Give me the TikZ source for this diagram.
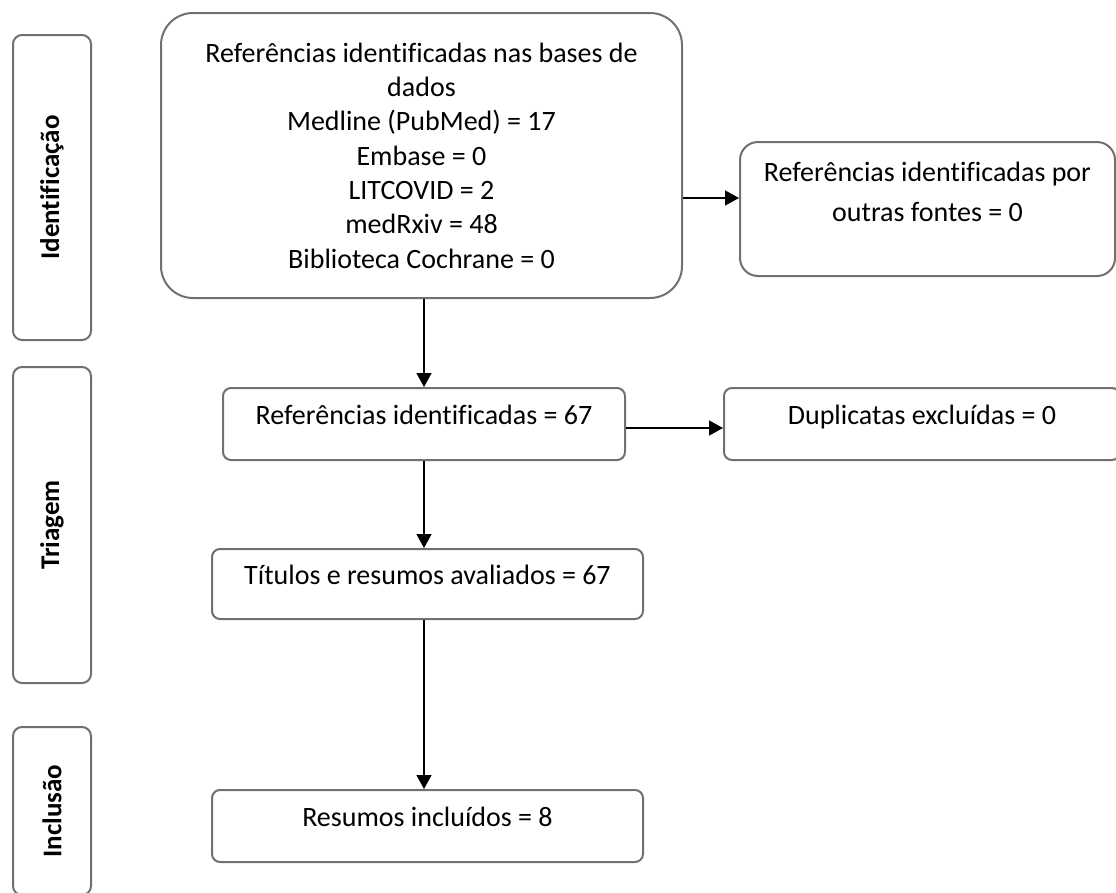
\documentclass[tikz,border=0pt]{standalone}
\usepackage{fontspec}
\setmainfont{Carlito}[Ligatures={NoCommon}]
\usepackage{xcolor}
\usepackage{tikz}
\usetikzlibrary{arrows.meta}
\definecolor{framegray}{RGB}{112,112,112}
\tikzstyle{phase} = [draw=framegray, line width=2pt, rounded corners=9pt, inner sep=0pt,
    font=\fontsize{27}{33}\selectfont\bfseries]
\tikzstyle{bag} = [draw=framegray, line width=2pt, rounded corners=8pt, align=center,
    font=\fontsize{28}{34.3}\selectfont]
\tikzstyle{oneline} = [inner ysep=1pt, text height=35pt, text depth=35pt]
\tikzstyle{flow} = [-{Triangle[length=14pt, width=15pt]}, line width=1.4pt]

\begin{document}
\begin{tikzpicture}[x=1pt, y=-1pt] % y grows downwards, like the page
    \useasboundingbox (0,0) rectangle (1116,892);

    % side labels
    \node[phase, rotate=90, minimum width=305pt, minimum height=78pt] (ident) at (52,187.5) {Identificação};
    \node[phase, rotate=90, minimum width=316pt, minimum height=78pt] (triag) at (52,525) {Triagem};
    \node[phase, rotate=90, minimum width=168pt, minimum height=78pt] (inclu) at (52,811) {Inclusão};

    % boxes
    \node[bag, rounded corners=32pt, minimum width=521pt, minimum height=285pt] (dbs) at (421.5,155.5)
        {Referências identificadas nas bases de\\ dados\\ Medline (PubMed) = 17\\ Embase = 0\\
         LITCOVID = 2\\ medRxiv = 48\\ Biblioteca Cochrane = 0};
    \node[bag, rounded corners=18pt, minimum width=375pt, minimum height=134pt] (othr) at (927.5,209) {};
    \node[align=center, anchor=north, inner sep=0pt, font=\fontsize{28}{40}\selectfont] (othrtxt)
        at ([yshift=-21pt]othr.north) {Referências identificadas por\\ outras fontes = 0};
    \node[bag, oneline, minimum width=402pt] (refs) at (424,424) {Referências identificadas = 67};
    \node[bag, oneline, minimum width=396pt] (dups) at (922,424) {Duplicatas excluídas = 0};
    \node[bag, oneline, inner ysep=0pt, minimum width=431pt] (tit) at (427.5,584) {Títulos e resumos avaliados = 67};
    \node[bag, oneline, minimum width=431pt] (inc) at (427.5,826) {Resumos incluídos = 8};

    % arrows
    \coordinate (ab) at ([yshift=11pt]othr.west);
    \coordinate (cd) at ([yshift=-4pt]refs.east);
    \draw[flow] (ab -| dbs.east) -- (ab);
    \draw[flow] (refs.north |- dbs.south) -- (refs.north);
    \draw[flow] (cd) -- (cd -| dups.west);
    \draw[flow] (refs.south) -- (refs.south |- tit.north);
    \draw[flow] (refs.south |- tit.south) -- (refs.south |- inc.north);
\end{tikzpicture}
\end{document}
